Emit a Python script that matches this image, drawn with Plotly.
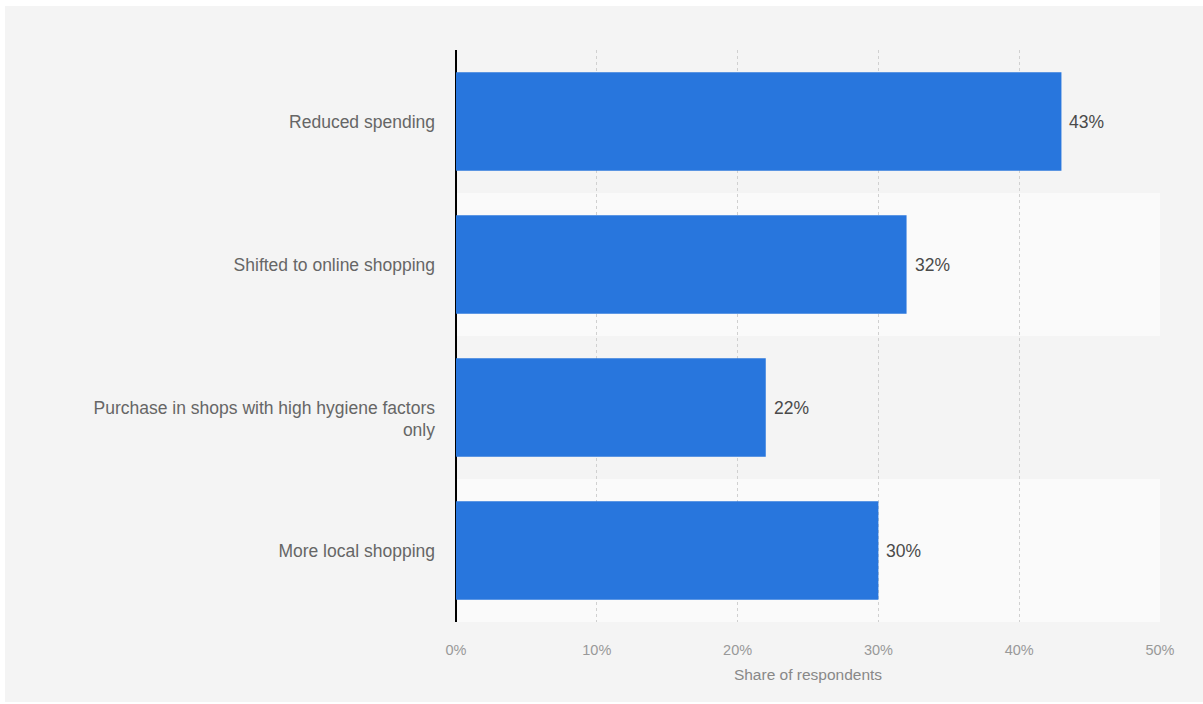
import plotly.graph_objects as go

# Survey: changes in shopping behaviour
categories = [
    "Reduced spending",
    "Shifted to online shopping",
    "Purchase in shops with high hygiene factors<br>only",
    "More local shopping",
]
shares = [43, 32, 22, 30]
tick_values = [0, 10, 20, 30, 40, 50]
tick_labels = ["0%", "10%", "20%", "30%", "40%", "50%"]

FONT = "Liberation Sans, Arial, sans-serif"
BAR_COLOR = "#2876dd"

fig = go.Figure(
    go.Bar(
        x=shares,
        y=categories,
        orientation="h",
        marker=dict(color=BAR_COLOR, line=dict(width=0)),
        width=0.69,
        hoverinfo="skip",
    )
)

# Value labels just right of each bar end
for cat, v in zip(categories, shares):
    fig.add_annotation(
        x=v, y=cat, xref="x", yref="y",
        text=f"{v}%", showarrow=False,
        xanchor="left", yanchor="middle", xshift=6,
        font=dict(family=FONT, size=17.5, color="#4a4a4a"),
    )

# Gray backdrop panel and alternating row bands
shapes = [
    dict(type="rect", xref="paper", yref="paper",
         x0=-0.6406, x1=1.07, y0=-0.1399, y1=1.0769,
         fillcolor="#f4f4f4", line=dict(width=0), layer="below"),
]
for i, cat in enumerate(categories):
    color = "#f4f4f4" if i % 2 == 0 else "#fafafa"
    shapes.append(dict(type="rect", xref="paper", yref="y",
                       x0=0, x1=1, y0=i - 0.5, y1=i + 0.5,
                       fillcolor=color, line=dict(width=0), layer="below"))

# Wrapped labels keep their first line level with the bar centre
tick_text = [("\u00a0<br>" + c) if "<br>" in c else c for c in categories]

fig.update_layout(
    width=1203,
    height=704,
    margin=dict(l=456, r=43, t=50, b=82),
    paper_bgcolor="#ffffff",
    plot_bgcolor="rgba(0,0,0,0)",
    showlegend=False,
    shapes=shapes,
    font=dict(family=FONT),
    xaxis=dict(
        range=[0, 50],
        tickvals=tick_values,
        ticktext=tick_labels,
        showgrid=True,
        gridcolor="#d0d0d0",
        griddash="dot",
        gridwidth=1,
        zeroline=True,
        zerolinecolor="#000000",
        zerolinewidth=1.5,
        showline=False,
        ticks="",
        ticklabelstandoff=17,
        tickfont=dict(family=FONT, size=14.5, color="#999999"),
        title=dict(text="Share of respondents", standoff=12,
                   font=dict(family=FONT, size=15.5, color="#888888")),
        fixedrange=True,
    ),
    yaxis=dict(
        autorange="reversed",
        tickvals=categories,
        ticktext=tick_text,
        showgrid=False,
        zeroline=False,
        showline=False,
        ticks="",
        ticklabelstandoff=20,
        tickfont=dict(family=FONT, size=17.5, color="#666666"),
        fixedrange=True,
    ),
)

fig.write_html("out.html")
